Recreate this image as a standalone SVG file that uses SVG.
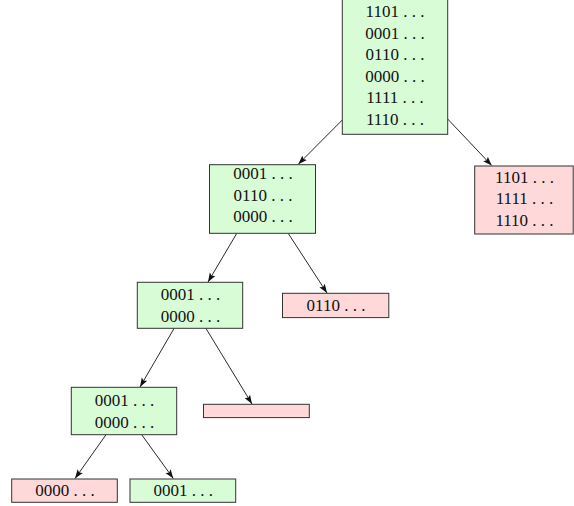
<svg xmlns="http://www.w3.org/2000/svg" width="574" height="506" viewBox="0 0 574 506">
<style>
.g{fill:#d8fdd6;stroke:#333;stroke-width:1}
.r{fill:#ffd9d9;stroke:#333;stroke-width:1}
text{font-family:"Liberation Serif","Times New Roman",serif;font-size:17px;fill:#111;text-anchor:middle}
.e{stroke:#111;stroke-width:0.9;fill:none;marker-end:url(#ah)}
</style>
<defs>
<marker id="ah" markerUnits="userSpaceOnUse" markerWidth="10" markerHeight="8" viewBox="0 0 10 8" refX="9" refY="4" orient="auto">
<path d="M0,0.8 L9,4 L0,7.2 L1.8,4 Z" fill="#111"/>
</marker>
</defs>
<rect width="574" height="506" fill="#fff"/>
<g id="connectors">
<path class="e" d="M342.3,120 L298.3,164.2"/>
<path class="e" d="M447.7,119 L491.7,165.5"/>
<path class="e" d="M236.7,233.5 L208,282"/>
<path class="e" d="M288.3,233.5 L327,293"/>
<path class="e" d="M174,328.5 L140,387"/>
<path class="e" d="M206,328.5 L252,404"/>
<path class="e" d="M106,434.7 L75,478.5"/>
<path class="e" d="M141.7,434.7 L173.3,478.5"/>
</g>
<g id="root">
<rect class="g" x="342.3" y="-5" width="105.4" height="139.3"/>
<text x="395" y="17.3">1101 . . .</text>
<text x="395" y="38.8">0001 . . .</text>
<text x="395" y="60.3">0110 . . .</text>
<text x="395" y="81.8">0000 . . .</text>
<text x="395" y="103.3">1111 . . .</text>
<text x="395" y="124.8">1110 . . .</text>
</g>
<g id="n2">
<rect class="g" x="209.5" y="164.7" width="106" height="68.6"/>
<text x="263" y="179.3">0001 . . .</text>
<text x="263" y="200.8">0110 . . .</text>
<text x="263" y="222.3">0000 . . .</text>
</g>
<g id="n3">
<rect class="r" x="474.7" y="166" width="98.5" height="68"/>
<text x="524.5" y="182.5">1101 . . .</text>
<text x="524.5" y="204">1111 . . .</text>
<text x="524.5" y="225.5">1110 . . .</text>
</g>
<g id="n4">
<rect class="g" x="137.3" y="282.3" width="105.4" height="46"/>
<text x="190.5" y="300">0001 . . .</text>
<text x="190.5" y="321.5">0000 . . .</text>
</g>
<g id="n5">
<rect class="r" x="282.5" y="293.3" width="106.3" height="24.3"/>
<text x="336" y="310.7">0110 . . .</text>
</g>
<g id="n6">
<rect class="g" x="71.3" y="387.3" width="105.4" height="47.4"/>
<text x="124.5" y="406">0001 . . .</text>
<text x="124.5" y="427.5">0000 . . .</text>
</g>
<g id="n7">
<rect class="r" x="203.5" y="404.3" width="105.8" height="13.3"/>
</g>
<g id="n8">
<rect class="r" x="11.7" y="479" width="105.6" height="23.3"/>
<text x="65" y="495.5">0000 . . .</text>
</g>
<g id="n9">
<rect class="g" x="130" y="479" width="105.7" height="23.3"/>
<text x="183.3" y="495.5">0001 . . .</text>
</g>
</svg>
